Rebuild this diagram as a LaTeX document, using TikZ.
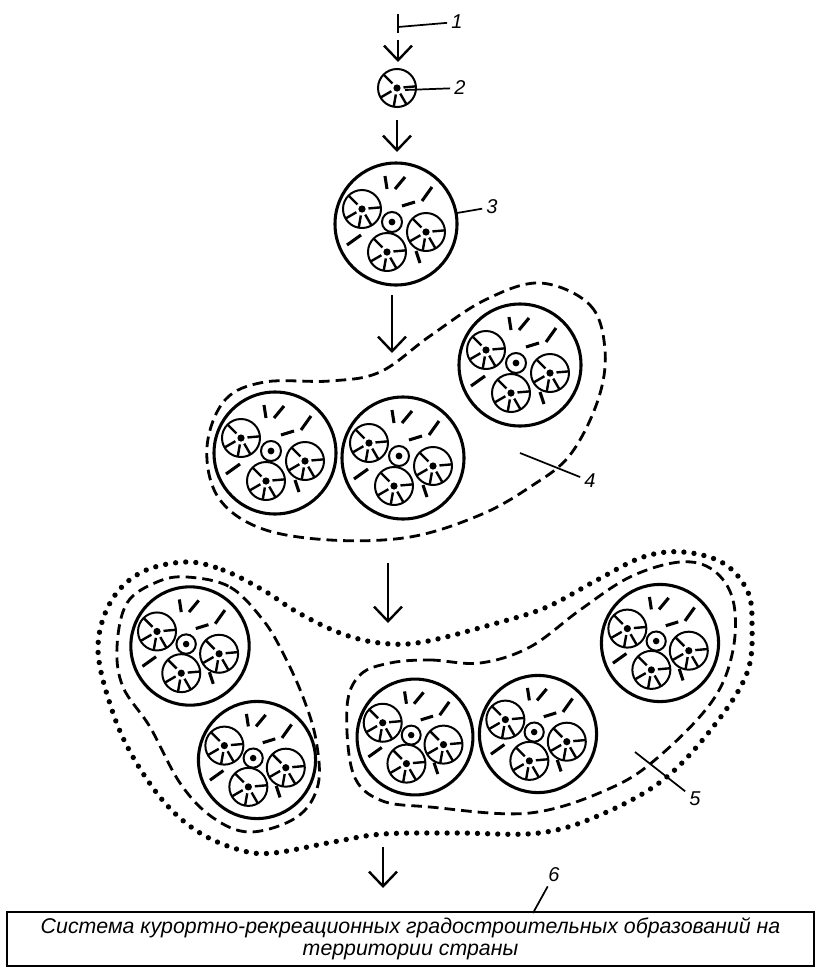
\documentclass[tikz,border=0pt]{standalone}
\usepackage{fontspec}
\setmainfont{Liberation Sans}
\usetikzlibrary{arrows.meta,positioning}
\tikzset{
cellline/.style={line width=2.3pt}, % outline of a settlement
wheelline/.style={line width=1.5pt},
spoke/.style={line width=1.8pt},
tickline/.style={line width=2.3pt},
dashblob/.style={line width=2.1pt, dash pattern=on 8pt off 4.5pt},
dotblob/.style={line width=4pt, line cap=round, dash pattern=on 0pt off 7.6pt},
flow/.style={line width=1.8pt, -{Straight Barb[length=11pt,width=21pt]}},
leader/.style={line width=1.3pt},
lbl/.style={font=\itshape\fontsize{15}{16}\selectfont, inner sep=3pt},
}
\tikzset{
    wheel/.pic={
      \draw[wheelline] (0,0) circle (19);
      \fill (0,0) circle (3.6);
      \foreach \a in {225,355,60,100,150}
        \draw[spoke] (\a:6.5) -- (\a:19);
    },
    cell/.pic={
      \draw[cellline] (0,0) circle (61);
      \pic at (-34,-15) {wheel};
      \pic at (30,8) {wheel};
      \pic at (-9,28) {wheel};
      \draw[wheelline] (-4,-2) circle (10);
      \fill (-4,-2) circle (3.4);
      \draw[tickline] (-11,-48) -- (-9,-35) (-1,-35) -- (9,-47)
        (26,-23) -- (36,-37) (6,-18) -- (19,-22)
        (-49,21) -- (-35,11) (20,27) -- (24,39);
    }
}
\begin{document}
\begin{tikzpicture}[x=0.75pt,y=-0.75pt]
   \useasboundingbox (0,0) rectangle (816,968);
   % 1 -- single element
   \draw[leader, line width=1.6pt] (398,14) -- (398,33);
   \pic (e2) at (397,88) {wheel};
   \pic (c3) at (396,224) {cell};
   % 4 -- group of three
   \pic (g4a) at (275,453) {cell};
   \pic (g4b) at (403,458) {cell};
   \pic (g4c) at (520,365) {cell};
   \draw[dashblob] plot[smooth cycle, tension=0.6] coordinates {
     (540,283) (590,305) (605,350) (598,400) (570,455) (530,487)
     (480,515) (410,537) (330,540) (260,528) (218,497) (207,447)
     (225,400) (265,382) (330,381) (380,372) (430,336) (485,300)};
   % 5 -- system of groups
   \pic[scale=0.97] (g5a) at (190,646) {cell};
   \pic[scale=0.96] (g5b) at (257,760) {cell};
   \pic[scale=0.95] (g5c) at (415,737) {cell};
   \pic[scale=0.96] (g5d) at (538,734) {cell};
   \pic[scale=0.96] (g5e) at (660,643) {cell};
   \draw[dashblob] plot[smooth cycle, tension=0.6] coordinates {
     (187,577) (230,587) (263,620) (283,653) (303,697) (316,740)
     (318,785) (297,817) (250,832) (212,817) (180,783) (150,727)
     (123,687) (117,647) (127,603) (157,582)};
   \draw[dashblob] plot[smooth cycle, tension=0.6] coordinates {
     (390,663) (430,660) (480,663) (530,647) (580,610) (630,577)
     (680,562) (713,570) (733,600) (733,650) (713,700) (663,753)
     (613,787) (530,813) (430,807) (380,800) (353,773) (347,707)
     (360,675)};
   \draw[dotblob] plot[smooth cycle, tension=0.6] coordinates {
     (185,562) (223,570) (263,590) (297,612) (340,633) (380,643)
     (423,642) (497,623) (547,607) (597,580) (643,557) (683,552)
     (723,563) (747,590) (752,623) (747,673) (713,727) (663,780)
     (600,815) (539,833) (456,833) (383,834) (333,842) (273,853)
     (240,850) (200,833) (165,803) (133,757) (112,710) (98,650)
     (110,603) (140,573)};
   % 6 -- the whole country
   \node[draw, line width=1.6pt, minimum width=605pt, minimum height=40.5pt,
     align=center, font=\itshape\fontsize{16}{16.5}\selectfont] (sys) at (410.5,939)
     {Система курортно-рекреационных градостроительных образований на\\территории страны};
   % flow arrows
   \coordinate (a1s) at (398,40);  \coordinate (a1e) at (398,62);
   \coordinate (a2s) at (397,120); \coordinate (a2e) at (397,152);
   \coordinate (a3s) at (392,295); \coordinate (a3e) at (392,353);
   \coordinate (a4s) at (388,563); \coordinate (a4e) at (388,623);
   \coordinate (a5s) at (383,847); \coordinate (a5e) at (383,888);
   \foreach \i in {1,...,5}
     \draw[flow] (a\i s) -- (a\i e);
   % labels
   \node[lbl] (l1) at (457,22) {1};
   \node[lbl] (l2) at (460,88) {2};
   \node[lbl] (l3) at (492,207) {3};
   \node[lbl] (l4) at (590,481) {4};
   \node[lbl] (l5) at (695,799) {5};
   \node[lbl] (l6) at (554,875) {6};
   \coordinate (t1) at (398,27);
   \coordinate (t2) at (405,90);
   \coordinate (t3) at (457,213);
   \coordinate (t4) at (520,453);
   \coordinate (t5) at (635,752);
   \coordinate (t6) at (533,913);
   \foreach \i in {1,...,6}
     \draw[leader] (t\i) -- (l\i);
\end{tikzpicture}
\end{document}
